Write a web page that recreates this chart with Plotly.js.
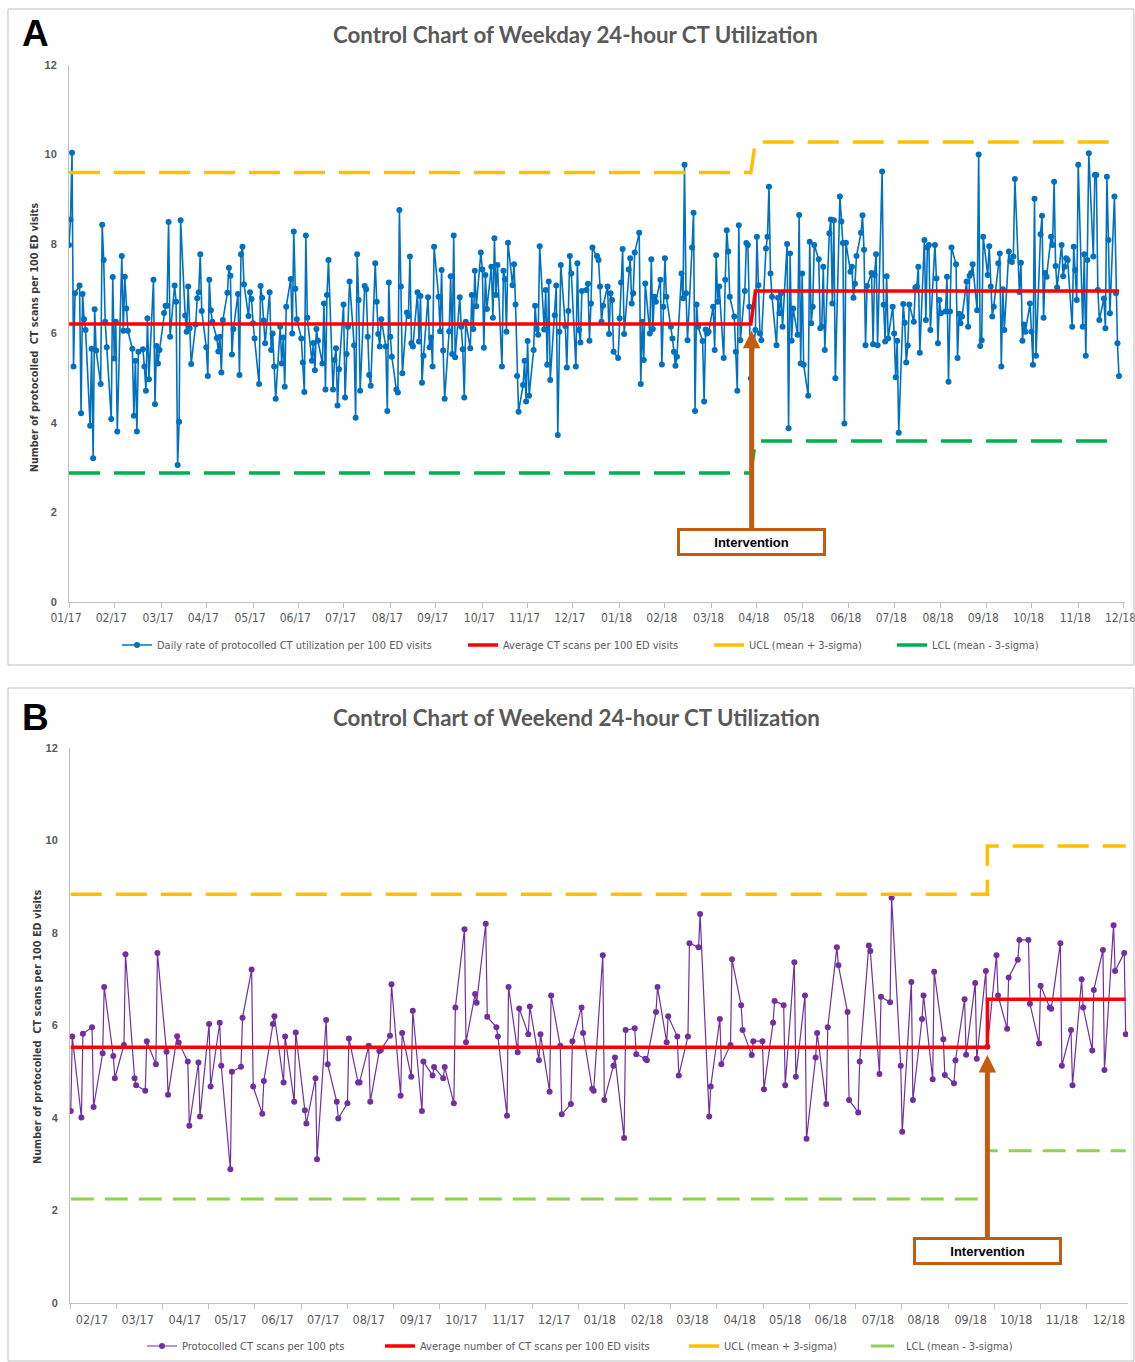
<!DOCTYPE html>
<html><head><meta charset="utf-8">
<script src="https://cdn.plot.ly/plotly-3.0.1.min.js"></script>
<style>html,body{margin:0;padding:0;background:#fff}#chart{width:1135px;height:1362px}</style>
</head><body><div id="chart"></div>
<script>
// ---------- DATA ----------
// Panel A: weekday daily rates (one value per weekday, starting weekdayStart)
const weekdayRates = [
7.98,8.55,10.04,5.26,6.90,7.07,4.22,6.88,6.32,6.08,
3.94,5.66,3.21,6.54,5.62,4.87,8.43,7.64,6.26,5.69,
4.09,7.26,5.44,6.26,3.81,7.73,6.06,7.27,6.56,6.06,
5.66,4.16,5.39,3.81,5.59,5.65,5.26,4.72,6.34,4.98,
7.20,4.42,5.72,5.33,5.63,6.46,6.62,6.62,8.49,5.93,
7.07,6.71,3.06,4.03,8.53,6.40,6.04,7.05,6.12,5.32,
6.20,6.79,6.92,7.77,6.50,5.69,5.05,7.20,6.52,6.26,
5.90,5.60,5.93,5.13,6.30,6.91,7.47,7.29,5.53,6.10,
6.88,5.07,7.77,7.94,7.10,6.39,6.92,6.77,6.23,5.89,
4.87,7.06,6.80,6.29,5.78,6.92,5.63,6.00,5.26,4.54,
6.15,5.33,5.91,4.81,6.60,7.22,6.00,8.28,7.00,6.32,
5.89,5.35,4.69,8.19,6.35,5.39,5.79,5.18,6.10,5.84,
5.33,6.67,4.75,6.86,7.64,
4.75,5.41,5.67,4.39,5.20,6.65,4.57,5.54,6.15,7.16,
5.74,4.12,7.77,6.75,4.72,7.06,6.99,5.93,5.07,4.83,
7.57,6.71,5.99,5.71,6.32,5.71,4.27,7.14,5.93,5.48,
4.75,4.68,8.76,7.05,5.11,6.47,6.39,7.72,5.78,5.71,
6.92,5.82,6.84,4.90,5.50,6.81,5.69,5.91,5.26,7.94,
6.82,6.05,7.42,5.62,4.54,6.05,7.28,5.54,8.19,5.47,
6.81,6.15,5.65,4.57,6.26,5.67,6.86,6.10,7.40,6.61,
7.81,7.43,5.68,7.31,6.55,7.49,6.35,8.13,6.86,7.53,
5.26,7.40,7.22,6.04,8.03,7.08,7.55,6.65,5.05,4.25,
4.85,5.39,4.48,5.83,4.61,5.63,6.62,6.10,5.97,7.95,
6.09,6.97,5.30,7.16,4.96,6.41,7.07,3.73,6.04,7.53,
6.17,5.24,6.50,7.73,7.34,5.26,7.57,6.08,5.80,6.95,
6.97,7.11,5.84,6.67,7.92,7.73,7.64,7.05,6.26,6.62,
7.05,5.99,6.90,6.75,5.59,5.45,6.34,7.14,7.89,5.99,
7.43,7.68,6.67,6.90,7.81,8.25,4.87,6.26,5.41,7.12,
6.00,7.66,6.10,6.82,6.71,7.20,5.31,6.60,7.68,6.82,
6.15,5.89,5.59,5.28,5.48,7.34,6.79,9.77,6.90,5.85,
7.92,8.70,4.27,6.65,6.15,5.83,4.48,6.09,6.00,6.04,
6.60,5.63,7.75,6.71,7.05,5.45,7.20,8.31,7.83,6.82,
6.38,5.59,4.72,8.42,5.85,6.95,8.02,7.98,6.60,5.00,
6.08,8.16,7.08,6.00,5.85,7.90,8.16,9.28,7.34,6.82,
5.74,6.80,6.45,6.90,6.15,8.00,3.88,7.79,5.84,6.56,
5.97,8.65,5.33,7.34,5.30,4.61,8.05,6.23,6.60,7.98,
7.66,6.12,6.15,7.49,5.63,8.24,8.55,6.67,8.53,5.00,
9.06,8.50,8.02,3.99,8.03,
7.38,7.49,6.80,7.11,7.73,8.25,8.64,7.87,5.74,7.06,
7.35,5.76,7.31,7.77,5.74,9.62,6.64,5.82,7.28,5.89,
6.60,6.00,5.02,5.84,3.78,6.66,6.24,5.35,5.73,6.65,
6.26,7.02,7.05,7.49,5.57,8.09,6.30,7.92,7.98,6.08,
7.98,7.23,5.78,6.75,6.45,6.49,7.27,4.92,6.49,7.92,
7.55,5.45,6.44,6.23,6.38,7.16,6.15,7.29,7.35,7.55,
6.52,10.00,5.72,5.85,8.16,7.31,7.95,7.05,6.38,6.60,
7.57,7.79,5.26,6.99,6.08,7.83,7.62,7.60,7.72,9.45,
6.93,7.58,5.84,6.20,6.04,6.67,6.04,5.30,9.01,5.50,
8.22,8.63,6.35,7.35,7.27,8.16,7.98,9.39,7.51,7.03,
7.98,7.28,7.49,7.68,7.64,6.15,7.94,7.42,6.75,9.77,
6.15,7.77,5.50,7.64,10.03,7.72,9.54,9.54,6.97,6.30,
6.78,6.12,9.50,8.09,6.45,9.06,6.90,5.78,5.05
];
const weekdayStart = '2017-01-02';
const weekdayIntervention = '2018-04-02';
const weekdayMean = [6.21, 6.95];   // before, after
const weekdayUCL  = [9.60, 10.28];
const weekdayLCL  = [2.88, 3.60];
const weekdayTickLabels = ['01/17','02/17','03/17','04/17','05/17','06/17','07/17','08/17','09/17','10/17','11/17','12/17',
                           '01/18','02/18','03/18','04/18','05/18','06/18','07/18','08/18','09/18','10/18','11/18','12/18'];

// Panel B: weekend daily rates (Sat, Sun pairs, starting weekendStart)
const weekendRates = [
4.15,5.76,4.01,5.82,5.96,4.24,5.40,6.83,5.34,4.86,
5.58,7.54,4.86,4.71,4.59,5.66,5.16,7.57,5.43,4.50,
5.77,5.63,5.22,3.83,5.20,4.03,6.03,4.68,6.06,5.13,
2.89,5.00,5.11,6.17,7.21,4.68,4.09,4.80,6.03,6.20,
4.77,5.76,4.35,5.85,4.17,3.88,4.86,3.11,6.12,5.16,
4.35,3.99,4.32,5.72,4.77,4.77,5.56,4.35,5.45,5.47,
5.78,6.89,4.48,5.84,4.89,6.32,4.15,5.22,4.92,5.10,
4.86,5.10,4.32,6.39,8.08,5.64,6.68,6.49,8.20,6.19,
5.96,5.76,4.05,6.83,5.42,6.37,5.81,6.41,5.25,5.81,
4.57,6.65,5.56,4.08,4.30,5.66,6.39,5.84,4.63,
4.59,7.52,4.39,5.13,5.31,3.57,5.90,5.94,5.38,5.28,
5.25,6.29,6.83,5.64,6.20,5.76,4.92,5.76,7.78,7.69,
8.41,4.03,4.68,6.14,5.16,5.58,7.43,6.44,5.90,5.36,
5.66,5.66,4.62,6.06,6.53,6.44,4.71,7.37,4.89,6.65,
3.55,5.31,5.84,4.30,5.96,7.69,7.30,6.29,4.39,
4.12,5.22,7.73,7.61,4.95,6.62,6.50,8.76,5.13,3.70,
6.94,4.39,6.14,6.65,4.84,7.16,5.70,4.93,4.75,5.25,
6.57,5.37,6.92,5.28,7.18,5.54,7.52,6.65,5.93,7.04,
7.42,7.85,7.85,6.47,5.61,6.86,6.39,6.36,7.78,5.13,
5.90,4.71,7.00,6.39,5.46,6.77,7.63,5.04,8.17,7.18,
7.57,5.81
];
const weekendStart = '2017-01-14';
const weekendIntervention = '2018-09-15';
const weekendMean = [5.53, 6.57];
const weekendUCL  = [8.84, 9.88];
const weekendLCL  = [2.25, 3.29];
const weekendTickLabels = ['02/17','03/17','04/17','05/17','06/17','07/17','08/17','09/17','10/17','11/17','12/17',
                           '01/18','02/18','03/18','04/18','05/18','06/18','07/18','08/18','09/18','10/18','11/18','12/18'];

// ---------- HELPERS ----------
const DAY = 86400000, MONTH = 30.4 * DAY;
const iso = d => d.toISOString().slice(0, 10);
function datesFor(start, n, keep) {
  const out = []; const d = new Date(start + 'T00:00:00Z');
  while (out.length < n) { if (keep(d.getUTCDay())) out.push(iso(d)); d.setUTCDate(d.getUTCDate() + 1); }
  return out;
}
// evenly spaced month ticks (the original axis spaces its month labels uniformly)
function evenTicks(start, n) {
  const t0 = Date.parse(start + 'T00:00:00Z'); const out = [];
  for (let k = 0; k < n; k++) out.push(new Date(t0 + Math.round(k * 30.4) * DAY).toISOString().slice(0, 19).replace('T', ' '));
  return out;
}
const W = 1135, H = 1362;
const px = v => v / W, py = v => 1 - v / H;
const FN = '"Liberation Sans Narrow", "DejaVu Sans Condensed", "Arial Narrow", sans-serif';
const FS = '"Liberation Sans", Arial, sans-serif';
const GRAY = '#595959', AXC = '#BFBFBF', ORANGE = '#C55A11';

const aX = datesFor(weekdayStart, weekdayRates.length, w => w >= 1 && w <= 5);
const aPh = aX.map(d => (d >= weekdayIntervention ? 1 : 0));
const bX = datesFor(weekendStart, weekendRates.length, w => w === 0 || w === 6);
const bPh = bX.map(d => (d >= weekendIntervention ? 1 : 0));

const traces = [
  {x: aX, y: weekdayRates, type: 'scatter', mode: 'lines+markers', name: 'Daily rate of protocolled CT utilization per 100 ED visits',
   line: {color: '#0070C0', width: 1.6}, marker: {color: '#0070C0', size: 6}, xaxis: 'x', yaxis: 'y', legend: 'legend'},
  {x: aX, y: aPh.map(p => weekdayMean[p]), type: 'scatter', mode: 'lines', name: 'Average CT scans per 100 ED visits',
   line: {color: '#FF0000', width: 3.5}, xaxis: 'x', yaxis: 'y', legend: 'legend2'},
  {x: aX, y: aPh.map(p => weekdayUCL[p]), type: 'scatter', mode: 'lines', name: 'UCL (mean + 3-sigma)',
   line: {color: '#FFC000', width: 3.5, dash: '31px,14px'}, xaxis: 'x', yaxis: 'y', legend: 'legend3'},
  {x: aX, y: aPh.map(p => weekdayLCL[p]), type: 'scatter', mode: 'lines', name: 'LCL (mean - 3-sigma)',
   line: {color: '#00B050', width: 3.5, dash: '31px,14px'}, xaxis: 'x', yaxis: 'y', legend: 'legend4'},

  {x: bX, y: weekendRates, type: 'scatter', mode: 'lines+markers', name: 'Protocolled CT scans per 100 pts',
   line: {color: '#7030A0', width: 1.2}, marker: {color: '#7030A0', size: 6}, xaxis: 'x2', yaxis: 'y2', legend: 'legend5'},
  {x: bX, y: bPh.map(p => weekendMean[p]), type: 'scatter', mode: 'lines', name: 'Average number of CT scans per 100 ED visits',
   line: {color: '#FF0000', width: 3.5, shape: 'vh'}, xaxis: 'x2', yaxis: 'y2', legend: 'legend6'},
  {x: bX, y: bPh.map(p => weekendUCL[p]), type: 'scatter', mode: 'lines', name: 'UCL (mean + 3-sigma)',
   line: {color: '#FFC000', width: 3.5, dash: '31px,14px', shape: 'vh'}, xaxis: 'x2', yaxis: 'y2', legend: 'legend7'},
  {x: bX, y: bPh.map(p => weekendLCL[p]), type: 'scatter', mode: 'lines', name: 'LCL (mean - 3-sigma)',
   line: {color: '#92D050', width: 3, dash: '23px,11px', shape: 'vh'}, xaxis: 'x2', yaxis: 'y2', legend: 'legend8'}
];

function yAx(top, bottom) {
  return {domain: [py(bottom), py(top)], range: [0, 12], tick0: 0, dtick: 2, showgrid: false, zeroline: false,
    showline: true, linecolor: AXC, linewidth: 1, ticks: 'outside', ticklen: 9, tickcolor: 'rgba(0,0,0,0)',
    tickfont: {family: FS, size: 11, color: GRAY, weight: 'bold'}, fixedrange: true};
}
function leg(xPix, yPix) {
  return {x: px(xPix), y: py(yPix), xanchor: 'left', yanchor: 'middle', orientation: 'h', bgcolor: 'rgba(0,0,0,0)',
    font: {family: FN, size: 11, color: GRAY}, borderwidth: 0, itemclick: false, itemdoubleclick: false};
}
const intervention = (x, y, ay, xr, yr) => ({x: x, y: y, xref: xr, yref: yr, ax: 0, ay: ay, text: 'Intervention',
  showarrow: true, arrowhead: 2, arrowsize: 0.7, arrowwidth: 5, arrowcolor: ORANGE, standoff: 0,
  bgcolor: '#FFFFFF', bordercolor: ORANGE, borderwidth: 3, borderpad: 2, width: 139, height: 18,
  font: {family: FS, size: 13, color: '#000', weight: 'bold'}});

const layout = {
  width: W, height: H, margin: {l: 0, r: 0, t: 0, b: 0}, paper_bgcolor: '#fff', plot_bgcolor: 'rgba(0,0,0,0)',
  showlegend: true, hovermode: false,
  xaxis: {type: 'date', domain: [px(69), px(1125)], range: ['2017-01-02', '2018-12-03'], anchor: 'y',
    tickmode: 'array', tickvals: evenTicks(weekdayStart, weekdayTickLabels.length), ticktext: weekdayTickLabels,
    ticklabelshift: -3, ticklabeloverflow: 'allow',
    ticks: 'outside', ticklen: 5, tickcolor: AXC, showline: true, linecolor: AXC, showgrid: false, zeroline: false,
    tickfont: {family: FN, size: 12, color: GRAY}, fixedrange: true},
  yaxis: Object.assign(yAx(65, 602), {anchor: 'x'}),
  xaxis2: {type: 'date', domain: [px(70), px(1128)], range: ['2017-01-13 12:00', '2018-12-10 12:00'], anchor: 'y2',
    tickmode: 'array', tickvals: evenTicks('2017-01-28', weekendTickLabels.length), ticktext: weekendTickLabels,
    ticklabeloverflow: 'allow',
    ticks: 'outside', ticklen: 5, tickcolor: 'rgba(0,0,0,0)',
    minor: {tick0: '2017-01-13 12:00', dtick: MONTH, ticks: 'outside', ticklen: 5, tickcolor: AXC, showgrid: false},
    showline: true, linecolor: AXC, showgrid: false, zeroline: false,
    tickfont: {family: FN, size: 12.5, color: GRAY}, fixedrange: true},
  yaxis2: Object.assign(yAx(748, 1303), {anchor: 'x2'}),
  legend: leg(117, 645), legend2: leg(463, 645), legend3: leg(709, 645), legend4: leg(892, 645),
  legend5: leg(142, 1346), legend6: leg(380, 1346), legend7: leg(684, 1346), legend8: leg(866, 1346),
  shapes: [
    {type: 'rect', xref: 'paper', yref: 'paper', x0: px(8), x1: px(1134), y0: py(665), y1: py(9), line: {color: AXC, width: 1}},
    {type: 'rect', xref: 'paper', yref: 'paper', x0: px(8), x1: px(1134), y0: py(1361), y1: py(688), line: {color: AXC, width: 1}}
  ],
  annotations: [
    {text: 'A', xref: 'paper', yref: 'paper', x: px(20), y: py(34), xanchor: 'left', yanchor: 'middle', showarrow: false,
     font: {family: FS, size: 37, color: '#000', weight: 'bold'}},
    {text: 'B', xref: 'paper', yref: 'paper', x: px(20), y: py(717), xanchor: 'left', yanchor: 'middle', showarrow: false,
     font: {family: FS, size: 37, color: '#000', weight: 'bold'}},
    {text: 'Control Chart of Weekday 24-hour CT Utilization', xref: 'paper', yref: 'paper', x: px(575.5), y: py(35),
     xanchor: 'center', yanchor: 'middle', showarrow: false, font: {family: 'Lato, sans-serif', size: 22.3, color: GRAY, weight: 'bold'}},
    {text: 'Control Chart of Weekend 24-hour CT Utilization', xref: 'paper', yref: 'paper', x: px(576), y: py(717),
     xanchor: 'center', yanchor: 'middle', showarrow: false, font: {family: 'Lato, sans-serif', size: 22.3, color: GRAY, weight: 'bold'}},
    {text: 'Number of protocolled  CT scans per 100 ED visits', xref: 'paper', yref: 'paper', x: px(34), y: py(338),
     xanchor: 'center', yanchor: 'middle', textangle: -90, showarrow: false, font: {family: FN, size: 10.6, color: '#3a3a3a', weight: 'bold'}},
    {text: 'Number of protocolled  CT scans per 100 ED visits', xref: 'paper', yref: 'paper', x: px(37), y: py(1027),
     xanchor: 'center', yanchor: 'middle', textangle: -90, showarrow: false, font: {family: FN, size: 10.8, color: '#3a3a3a', weight: 'bold'}},
    intervention('2018-03-30 12:00', 6.06, 211, 'x', 'y'),
    intervention('2018-09-09', 5.36, 196, 'x2', 'y2')
  ]
};

Plotly.newPlot('chart', traces, layout, {staticPlot: true, displayModeBar: false});
</script></body></html>
